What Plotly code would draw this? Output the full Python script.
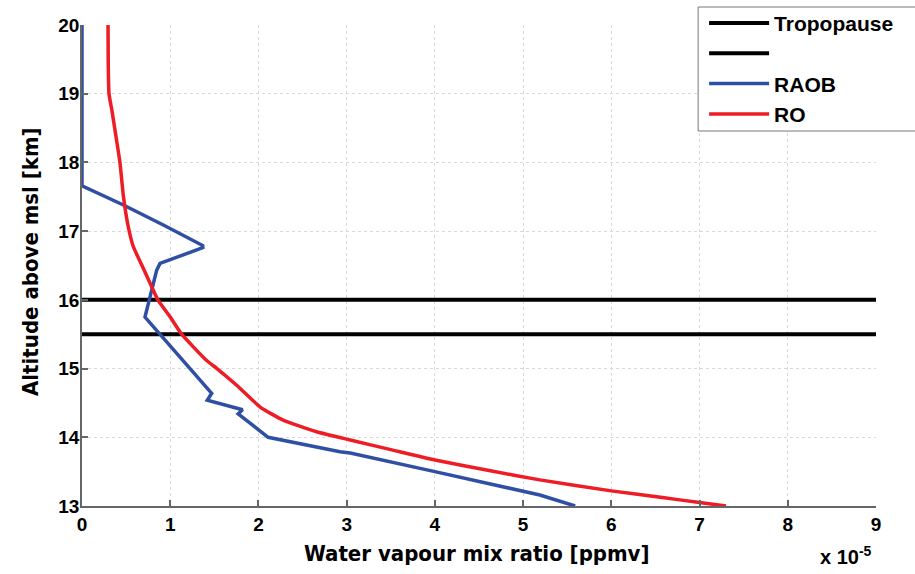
import plotly.graph_objects as go

# Data (x in units of 1e-5 ppmv, y altitude in km)
raob_x = [0.0, 0.0, 0.469, 0.922, 1.368, 1.37, 0.884, 0.846, 0.714, 1.15, 1.47, 1.42,
          1.79, 1.82, 1.77, 2.11, 2.925, 3.04, 4.0, 5.19, 5.59]
raob_y = [20.0, 17.66, 17.38, 17.09, 16.79, 16.76, 16.53, 16.43, 15.75, 15.12, 14.64, 14.54,
          14.42, 14.40, 14.34, 14.0, 13.79, 13.77, 13.50, 13.16, 13.0]

ro_x = [0.295, 0.297, 0.306, 0.34, 0.374, 0.43, 0.47, 0.525, 0.58, 0.68, 0.79, 0.86, 1.0,
        1.13, 1.41, 1.53, 1.75, 2.02, 2.28, 2.66, 3.04, 3.5, 4.0, 4.6, 5.19, 6.0, 6.6, 7.0, 7.3]
ro_y = [20.0, 19.5, 19.0, 18.75, 18.47, 18.0, 17.5, 17.06, 16.78, 16.5, 16.19, 16.0, 15.75,
        15.5, 15.12, 15.0, 14.76, 14.44, 14.25, 14.08, 13.96, 13.82, 13.67, 13.52, 13.38,
        13.22, 13.12, 13.05, 13.0]

tropopause_levels = [16.0, 15.5]
x_range = [0, 9]
y_range = [13, 20]
x_ticks = [0, 1, 2, 3, 4, 5, 6, 7, 8, 9]
y_ticks = [13, 14, 15, 16, 17, 18, 19, 20]

fig = go.Figure()
fig.add_trace(go.Scatter(x=x_range, y=[tropopause_levels[0]] * 2, mode="lines",
                         line=dict(color="black", width=4), name="Tropopause"))
fig.add_trace(go.Scatter(x=x_range, y=[tropopause_levels[1]] * 2, mode="lines",
                         line=dict(color="black", width=4), name=" "))
fig.add_trace(go.Scatter(x=raob_x, y=raob_y, mode="lines",
                         line=dict(color="#2E4FA3", width=3.5), name="RAOB"))
fig.add_trace(go.Scatter(x=ro_x, y=ro_y, mode="lines",
                         line=dict(color="#EE1C25", width=3.5, shape="spline", smoothing=0.5),
                         name="RO"))

axis_common = dict(
    showline=True, linecolor="#666666", linewidth=1.5, mirror=False,
    ticks="inside", ticklen=6, tickcolor="#666666", tickwidth=1.5,
    showgrid=True, gridcolor="#d9d9d9", griddash="dot", gridwidth=1,
    zeroline=False,
    tickfont=dict(family="Liberation Sans", size=19, color="black", weight="bold"),
)

fig.update_xaxes(range=x_range, tickvals=x_ticks, **axis_common)
fig.update_yaxes(range=y_range, tickvals=y_ticks, ticklabelstandoff=-3, **axis_common)

title_font = dict(family="DejaVu Sans Condensed, Liberation Sans", size=22,
                  color="black", weight="bold")

fig.update_layout(
    width=915, height=574,
    margin=dict(l=82, r=39, t=25, b=68, autoexpand=False),
    paper_bgcolor="white", plot_bgcolor="white",
    showlegend=True,
    legend=dict(x=0.7835, y=1.046, xanchor="left", yanchor="top",
                bgcolor="rgba(0,0,0,0)", borderwidth=0,
                font=dict(family="Liberation Sans", size=21, color="black", weight="bold"),
                itemwidth=60, tracegroupgap=0),
    shapes=[dict(type="rect", xref="paper", yref="paper",
                 x0=0.776, x1=1.1, y0=0.7796, y1=1.0374,
                 line=dict(color="#777777", width=1), fillcolor="white", layer="above")],
    annotations=[
        dict(text="Water vapour mix ratio [ppmv]", xref="paper", yref="paper",
             x=(477 - 82) / 794, y=(506 - 553) / 481, showarrow=False,
             xanchor="center", yanchor="middle", font=title_font),
        dict(text="Altitude above msl [km]", xref="paper", yref="paper",
             x=(30 - 82) / 794, y=(506 - 262) / 481, showarrow=False, textangle=-90,
             xanchor="center", yanchor="middle", font=title_font),
        dict(text="x 10<sup>-5</sup>", xref="paper", yref="paper",
             x=(846 - 82) / 794, y=(506 - 555) / 481, showarrow=False,
             xanchor="center", yanchor="middle",
             font=dict(family="Liberation Sans", size=20, color="black", weight="bold")),
    ],
)

fig.write_html("out.html")
